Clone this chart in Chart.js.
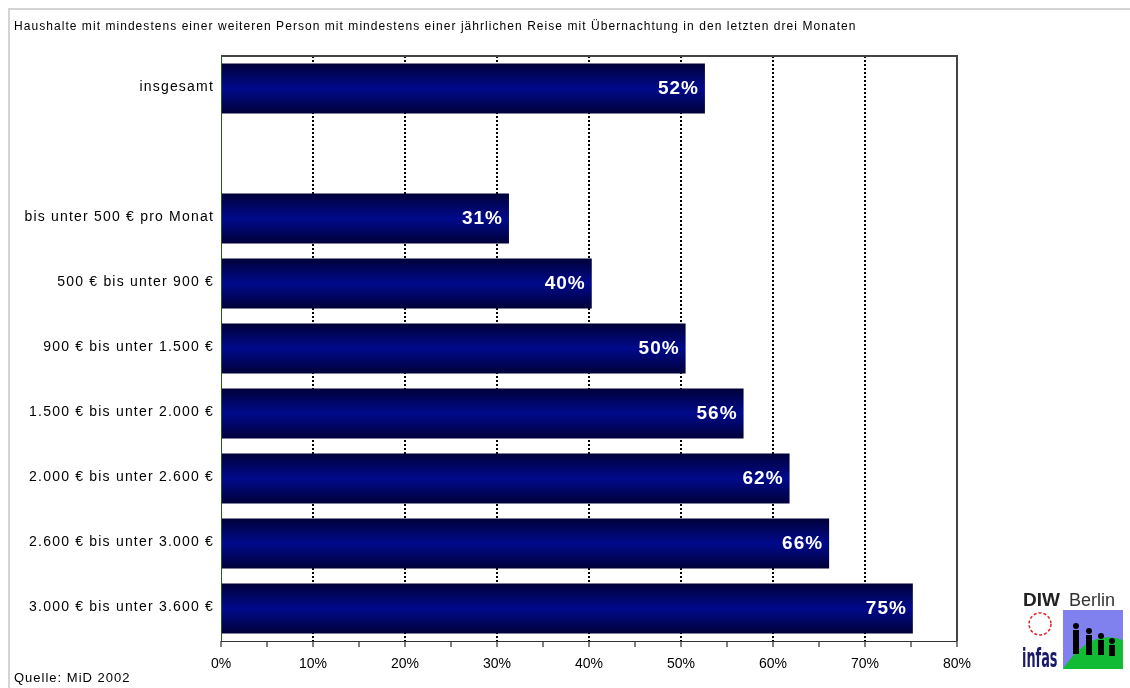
<!DOCTYPE html>
<html lang="de">
<head>
  <meta charset="UTF-8">
  <title>Reisen nach Haushaltseinkommen</title>
  <script src="https://cdn.jsdelivr.net/npm/chart.js"></script>
  <style>
    html, body { margin: 0; padding: 0; width: 1130px; height: 688px; overflow: hidden; background: #fff; }
    #frame { position: absolute; left: 8px; top: 8px; width: 1200px; height: 800px; border: 2px solid #d4d4d4; }
    #wrap { position: absolute; left: 0; top: 0; width: 1130px; height: 688px; }
    .txt { position: absolute; font-family: "Liberation Sans", Arial, sans-serif; color: #000; white-space: nowrap; }
    #title { left: 14px; top: 19px; font-size: 12px; letter-spacing: 1.05px; }
    #source { left: 14px; top: 670px; font-size: 13px; letter-spacing: 1px; }
  </style>
</head>
<body>
  <div id="frame"></div>
  <div id="wrap"><canvas id="chart" width="1130" height="688"></canvas></div>
  <div class="txt" id="title">Haushalte mit mindestens einer weiteren Person mit mindestens einer jährlichen Reise mit Übernachtung in den letzten drei Monaten</div>
  <div class="txt" id="source">Quelle: MiD 2002</div>

  <script>
    // categories (second slot left empty as in the original)
    const categories = [
      "insgesamt",
      "",
      "bis unter 500 € pro Monat",
      "500 € bis unter 900 €",
      "900 € bis unter 1.500 €",
      "1.500 € bis unter 2.000 €",
      "2.000 € bis unter 2.600 €",
      "2.600 € bis unter 3.000 €",
      "3.000 € bis unter 3.600 €"
    ];
    const shares = [52.6, null, 31.3, 40.3, 50.5, 56.8, 61.8, 66.1, 75.2];
    const shareLabels = ["52%", "", "31%", "40%", "50%", "56%", "62%", "66%", "75%"];
    const xTicks = [0, 10, 20, 30, 40, 50, 60, 70, 80];

    const FONT = '"Liberation Sans", Arial, sans-serif';

    const barFill = (ctx) => {
      const chart = ctx.chart;
      const area = chart.chartArea;
      if (!area || !chart.scales.y) return "#000a80";
      const y = chart.scales.y;
      const mid = y.getPixelForValue(ctx.dataIndex);
      const half = (area.bottom - area.top) / categories.length * 0.77 / 2;
      const g = chart.ctx.createLinearGradient(0, mid - half, 0, mid + half);
      g.addColorStop(0, "#000038");
      g.addColorStop(0.5, "#000a8c");
      g.addColorStop(1, "#000038");
      return g;
    };

    // category names, drawn by hand so they can get the wide letter spacing
    const catLabels = {
      id: "catLabels",
      afterDraw(chart) {
        const c = chart.ctx;
        const y = chart.scales.y;
        c.save();
        c.letterSpacing = "1.2px";
        c.fillStyle = "#000";
        c.font = "14px " + FONT;
        c.textAlign = "right";
        c.textBaseline = "middle";
        categories.forEach((name, i) => {
          if (!name) return;
          c.fillText(name, 214, y.getPixelForValue(i) - 1);
        });
        c.restore();
      }
    };

    // white bold value labels at the end of each bar
    const valueLabels = {
      id: "valueLabels",
      afterDatasetsDraw(chart) {
        const c = chart.ctx;
        const meta = chart.getDatasetMeta(0);
        c.save();
        c.letterSpacing = "1px";
        c.fillStyle = "#ffffff";
        c.font = "bold 19px " + FONT;
        c.textAlign = "right";
        c.textBaseline = "middle";
        meta.data.forEach((bar, i) => {
          if (shares[i] == null) return;
          c.fillText(shareLabels[i], bar.x - 6, bar.y);
        });
        c.restore();
      }
    };

    // frame of the plot area: top, right, and the solid bottom axis line
    const plotFrame = {
      id: "plotFrame",
      afterDraw(chart) {
        const a = chart.chartArea;
        const c = chart.ctx;
        c.save();
        c.strokeStyle = "#444444";
        c.lineWidth = 2;
        c.beginPath();
        c.moveTo(a.left, a.top);
        c.lineTo(a.right, a.top);
        c.lineTo(a.right, a.bottom);
        c.stroke();
        c.strokeStyle = "#333333";
        c.lineWidth = 1;
        c.beginPath();
        c.moveTo(a.left, a.bottom + 0.5);
        c.lineTo(a.right, a.bottom + 0.5);
        c.stroke();
        c.restore();
      }
    };

    // rough sketch of the DIW / infas logo
    const logo = {
      id: "logo",
      afterDraw(chart) {
        const c = chart.ctx;
        c.save();
        c.fillStyle = "#222";
        c.font = "bold 19px " + FONT;
        c.textBaseline = "alphabetic";
        c.fillText("DIW", 1023, 606);
        c.font = "18px " + FONT;
        c.fillStyle = "#333";
        c.fillText("Berlin", 1069, 606);
        // picture box
        c.fillStyle = "#8080ee";
        c.fillRect(1063, 610, 60, 59);
        c.fillStyle = "#11bb33";
        c.beginPath();
        c.moveTo(1063, 669);
        c.quadraticCurveTo(1090, 628, 1123, 640);
        c.lineTo(1123, 669);
        c.closePath();
        c.fill();
        c.fillStyle = "#000";
        [[1076, 630, 24], [1089, 635, 20], [1101, 640, 15], [1112, 645, 11]].forEach(([x, y, h]) => {
          c.beginPath();
          c.arc(x, y - 4, 3, 0, Math.PI * 2);
          c.fill();
          c.fillRect(x - 3, y, 6, h);
        });
        // red circle
        c.strokeStyle = "#e02020";
        c.lineWidth = 1.5;
        c.setLineDash([3, 2]);
        c.beginPath();
        c.arc(1040, 624, 11, 0, Math.PI * 2);
        c.stroke();
        c.setLineDash([]);
        c.font = "bold 26px 'DejaVu Sans Condensed', " + FONT;
        c.save();
        c.translate(1022, 667);
        c.scale(0.55, 1);
        c.fillStyle = "#1a1a66";
        c.fillText("infas", 0, 0);
        c.restore();
        c.restore();
      }
    };

    new Chart(document.getElementById("chart"), {
      type: "bar",
      data: {
        labels: categories,
        datasets: [{
          data: shares,
          backgroundColor: barFill,
          borderWidth: 0,
          barPercentage: 0.77,
          categoryPercentage: 1
        }]
      },
      options: {
        indexAxis: "y",
        responsive: false,
        animation: false,
        devicePixelRatio: 1,
        layout: { padding: { top: 56, right: 173, bottom: 0, left: 0 } },
        plugins: {
          legend: { display: false },
          tooltip: { enabled: false },
          title: { display: false }
        },
        scales: {
          x: {
            min: 0,
            max: 80,
            afterFit: (s) => { s.height = 47; },
            afterBuildTicks: (s) => {
              const t = [];
              for (let v = 0; v <= 80; v += 5) t.push({ value: v });
              s.ticks = t;
            },
            ticks: {
              autoSkip: false,
              maxRotation: 0,
              padding: 9,
              color: "#000",
              font: { family: FONT, size: 14 },
              callback: (v) => (xTicks.includes(v) ? v + "%" : "")
            },
            grid: {
              drawOnChartArea: true,
              tickLength: 6,
              lineWidth: 2,
              tickWidth: 1,
              tickColor: "#000",
              color: (ctx) => {
                const v = ctx.tick ? ctx.tick.value : 0;
                return v % 10 === 0 && v > 0 && v < 80 ? "#000" : "rgba(0,0,0,0)";
              },
              tickBorderDash: []
            },
            border: { display: false, dash: [2, 2] }
          },
          y: {
            afterFit: (s) => { s.width = 221; },
            ticks: { display: false },
            grid: { display: false, drawTicks: false },
            border: { display: true, color: "#1c5c1c", width: 1 }
          }
        }
      },
      plugins: [valueLabels, catLabels, plotFrame, logo]
    });
  </script>
</body>
</html>
